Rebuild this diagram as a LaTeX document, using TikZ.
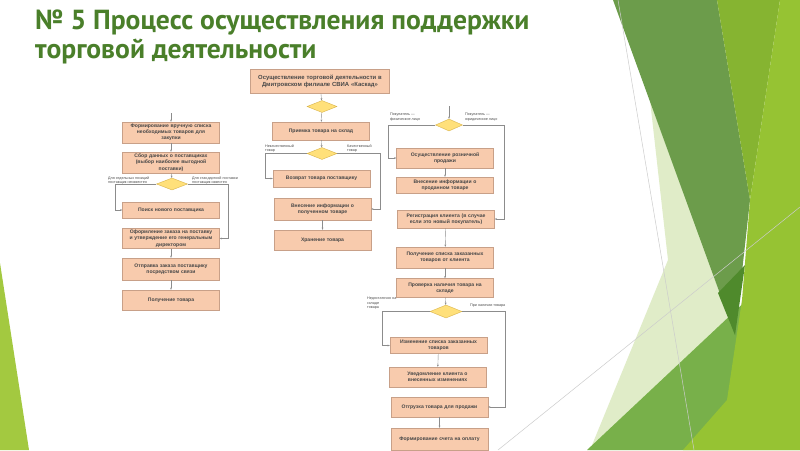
\documentclass[tikz,border=0pt]{standalone}
\usepackage{fontspec}
\setmainfont{PT Sans}
\newfontfamily\boxfont{Liberation Sans}
\usetikzlibrary{shapes.geometric, shadows, arrows.meta}

\definecolor{titlegreen}{HTML}{4A7F2A}
\definecolor{boxfill}{HTML}{F8CBAD}
\definecolor{boxedge}{HTML}{C8A088}
\definecolor{decfill}{HTML}{FFE07A}
\definecolor{decedge}{HTML}{D9B44A}
\definecolor{palegreen}{HTML}{E0ECC8}
\definecolor{midgreen}{HTML}{78B04A}
\definecolor{darkgreen}{HTML}{6C9C4B}
\definecolor{deepgreen}{HTML}{4F8A2C}
\definecolor{topgreen}{HTML}{86B431}
\definecolor{lightgreen}{HTML}{96C333}
\definecolor{edgegreen}{HTML}{A3C940}

\tikzset{
  box/.style={draw=boxedge, fill=boxfill, text width=95pt, inner xsep=1pt, inner ysep=1pt,
    align=center, font=\boxfont\bfseries\fontsize{5.05}{6.2}\selectfont, text=black!72,
    drop shadow={shadow xshift=0.8pt, shadow yshift=-0.8pt, fill=black!75, opacity=1}},
  dec/.style={diamond, draw=decedge, fill=decfill, minimum width=30pt, minimum height=12pt, inner sep=0pt},
  lbl/.style={font=\boxfont\fontsize{3.7}{4.5}\selectfont, text=black!70, align=left, inner sep=0pt},
  link/.style={draw=black!45, line width=0.4pt},
  >={Stealth[length=2.2pt, width=1.8pt]}
}

\begin{document}
\begin{tikzpicture}[x=1pt, y=-1pt]
\useasboundingbox (0,0) rectangle (800,450);
\fill[white] (0,0) rectangle (800,450);

% background of the slide
\fill[edgegreen] (0,263) -- (29,450) -- (0,450) -- cycle;
\fill[palegreen] (650,100) -- (735,335) -- (720,450) -- (590,450) -- (668,260) -- cycle;
\fill[midgreen] (587,450) -- (800,250) -- (800,450) -- cycle;
\fill[darkgreen] (613,0) -- (717,0) -- (750,200) -- (735,335) -- cycle;
\fill[deepgreen] (718,293) -- (745,265) -- (735,335) -- cycle;
\fill[topgreen] (717,0) -- (780,0) -- (750,200) -- cycle;
\fill[lightgreen] (780,0) -- (800,0) -- (800,450) -- (683,450) -- (727,400) -- (742,300) -- (750,200) -- cycle;
\draw[black!20, line width=0.5pt] (618,0) -- (694,450);
\draw[black!20, line width=0.5pt] (498,450) -- (800,207);

\node[anchor=base west, font=\bfseries\fontsize{27.6}{32}\selectfont, text=titlegreen, inner sep=0pt]
  (title1) at (35,29) {№ 5 Процесс осуществления поддержки};
\node[anchor=base west, font=\bfseries\fontsize{27.6}{32}\selectfont, text=titlegreen, inner sep=0pt]
  (title2) at (35,58) {торговой деятельности};

% top
\node[box, text width=137pt, minimum height=24pt, font=\boxfont\bfseries\fontsize{5.9}{7.2}\selectfont] (top) at (320,81.5)
  {Осуществление торговой деятельности в\\Дмитровском филиале СВИА «Каскад»};
\node[dec] (tD) at (322,106.5) {};
\draw[link,->] (top) -- (tD);

% left column
\coordinate (lIn) at (171,113);
\node[box, minimum height=21pt] (lA) at (171,132.5) {Формирование вручную списка\\необходимых товаров для\\закупки};
\node[box, minimum height=21pt] (lB) at (171,162.5) {Сбор данных о поставщиках\\(выбор наиболее выгодной\\поставки)};
\node[dec, minimum width=31pt] (lD) at (172,184) {};
\node[box, minimum height=16pt] (lC) at (171,210) {Поиск нового поставщика};
\node[box, minimum height=20pt] (lE) at (171,238.5) {Оформление заказа на поставку\\и утверждение его генеральным\\директором};
\node[box, minimum height=22pt] (lF) at (171,269) {Отправка заказа поставщику\\посредством связи};
\node[box, minimum height=20pt] (lG) at (171,300) {Получение товара};
\coordinate (lL) at (115,184);
\coordinate (lR) at (228,184);
\node[lbl, anchor=north west] (lDl) at (108,176.5) {Для отдельных позиций\\поставщик неизвестен};
\node[lbl, anchor=north west] (lDr) at (192,176.5) {Для стандартной поставки\\поставщик известен};

\draw[link,->] (lIn) -- (lA);
\draw[link,->] (lA) -- (lB);
\draw[link,->] (lB) -- (lD);
\draw[link,->] (lD.west) -- (lL) |- (lC.west);
\draw[link,->] (lD.east) -- (lR) |- (lE.east);
\draw[link,->] (lE) -- (lF);
\draw[link,->] (lF) -- (lG);

% middle column
\node[box, minimum height=18pt] (mA) at (321,131) {Приемка товара на склад};
\node[dec] (mD) at (322,153.5) {};
\node[box, minimum height=17pt] (mB) at (321.5,178.5) {Возврат товара поставщику};
\node[box, minimum height=22pt] (mC) at (322.5,209) {Внесение информации о\\полученном товаре};
\node[box, minimum height=20pt] (mE) at (322.5,240) {Хранение товара};
\coordinate (mL) at (265,153.5);
\coordinate (mR) at (380,153.5);
\node[lbl, anchor=south west] (mDl) at (265,152.5) {Некачественный\\товар};
\node[lbl, anchor=south west] (mDr) at (347,152.5) {Качественный\\товар};

\draw[link,->] (tD) -- (mA);
\draw[link,->] (mA) -- (mD);
\draw[link,->] (mD.west) -- (mL) |- (mB.west);
\draw[link,->] (mD.east) -- (mR) |- (mC.east);
\draw[link,->] (mC) -- (mE);

% right column
\coordinate (rIn) at (449,106);
\node[dec, minimum width=27pt, minimum height=12pt] (rD) at (449,125) {};
\node[box, minimum height=20pt] (rA) at (445,158) {Осуществление розничной\\продажи};
\node[box, minimum height=16pt] (rB) at (445,185) {Внесение информации о\\проданном товаре};
\node[box, minimum height=18pt] (rC) at (446,219) {Регистрация клиента (в случае\\если это новый покупатель)};
\node[box, minimum height=21pt] (rE) at (445,257.5) {Получение списка заказанных\\товаров от клиента};
\node[box, minimum height=19pt] (rF) at (445,288) {Проверка наличия товара на\\складе};
\node[dec, minimum width=32pt, minimum height=13pt] (rK) at (446,311.5) {};
\node[box, minimum height=16pt] (rG) at (438.5,345.5) {Изменение списка заказанных\\товаров};
\node[box, minimum height=20pt] (rH) at (437.5,377) {Уведомление клиента о\\внесенных изменениях};
\node[box, minimum height=20pt] (rI) at (439.5,407) {Отгрузка товара для продажи};
\node[box, minimum height=22pt] (rJ) at (439.5,439) {Формирование счета на оплату};
\coordinate (rL) at (388,125);
\coordinate (rR) at (504,125);
\coordinate (kL) at (382,311.5);
\coordinate (kR) at (505,311.5);
\node[lbl, anchor=south west] (rDl) at (390,121) {Покупатель —\\физическое лицо};
\node[lbl, anchor=south west] (rDr) at (465,121) {Покупатель —\\юридическое лицо};
\node[lbl, anchor=north west] (rKl) at (367,297) {Недостаточно на\\складе\\товара};
\node[lbl, anchor=west] (rKr) at (470,306) {При наличии товара};

\draw[link,->] (rIn) -- (rD);
\draw[link,->] (rD.west) -- (rL) |- (rA.west);
\draw[link,->] (rD.east) -- (rR) |- (rC.east);
\draw[link,->] (rA) -- (rB);
\draw[link,->] (rC) -- (rE);
\draw[link,->] (rE) -- (rF);
\draw[link,->] (rF) -- (rK);
\draw[link,->] (rK.west) -- (kL) |- (rG.west);
\draw[link,->] (rK.east) -- (kR) |- (rI.east);
\draw[link,->] (rG) -- (rH);
\draw[link,->] (rI) -- (rJ);
\end{tikzpicture}
\end{document}
